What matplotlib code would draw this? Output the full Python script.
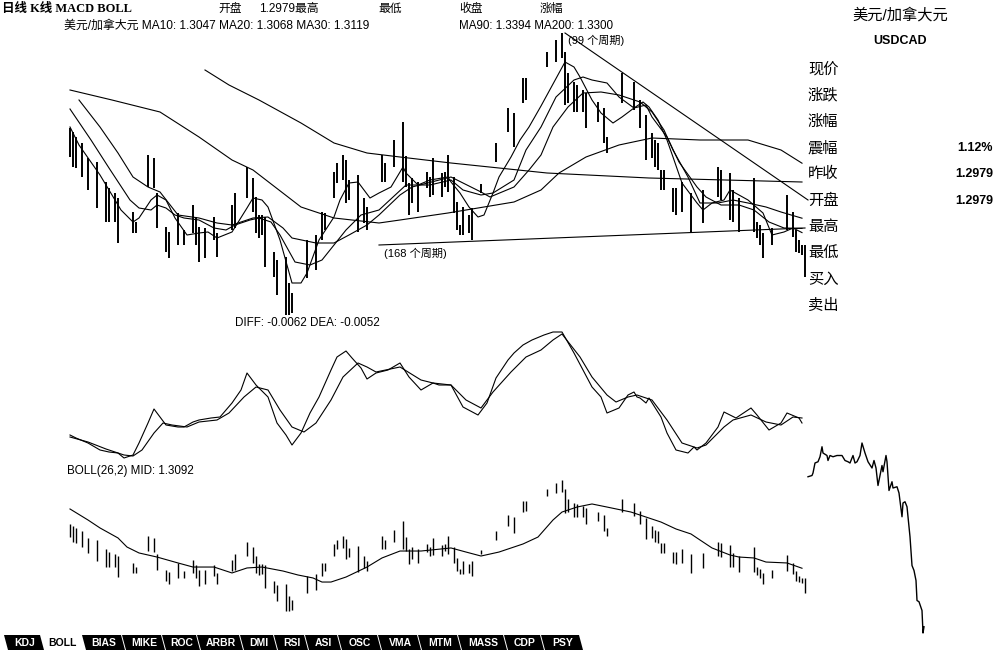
import matplotlib
matplotlib.use("Agg")
import matplotlib.pyplot as plt
from matplotlib.patches import Polygon

W, H = 995, 652

# daily bars: day index, high, low (USDCAD)
bar_day = [0, 1, 2, 4, 6, 9, 12, 13, 15, 16, 21, 22, 26, 28, 29, 32, 33, 36, 38, 41,
           42, 43, 45, 48, 49, 54, 55, 59, 61, 62, 63, 64, 65, 68, 69, 72, 73, 74, 79, 82,
           84, 85, 88, 89, 91, 92, 93, 96, 98, 99, 104, 105, 108, 111, 112, 113, 114, 116, 119, 120,
           121, 124, 125, 126, 128, 129, 130, 131, 133, 134, 137, 142, 146, 148, 151, 152, 159, 162, 164, 165,
           166, 168, 169, 171, 172, 176, 178, 179, 184, 188, 190, 192, 194, 195, 196, 197, 198, 201, 202, 204,
           207, 211, 216, 217, 220, 221, 223, 228, 229, 230, 231, 234, 239, 241, 242, 243, 244, 245]
bar_high = [1.3570, 1.3550, 1.3525, 1.3495, 1.3420, 1.3400, 1.3300, 1.3270, 1.3245, 1.3220,
            1.3150, 1.3100, 1.3435, 1.3420, 1.3245, 1.3075, 1.3050, 1.3145, 1.3060, 1.3185,
            1.3125, 1.3075, 1.3070, 1.3125, 1.3045, 1.3185, 1.3245, 1.3375, 1.3320, 1.3225,
            1.3135, 1.3135, 1.3125, 1.2950, 1.2910, 1.2925, 1.2795, 1.2745, 1.3010, 1.3035,
            1.3150, 1.3145, 1.3350, 1.3395, 1.3435, 1.3410, 1.3310, 1.3335, 1.3220, 1.3175,
            1.3435, 1.3395, 1.3510, 1.3600, 1.3430, 1.3295, 1.3320, 1.3300, 1.3350, 1.3325,
            1.3420, 1.3345, 1.3350, 1.3435, 1.3325, 1.3200, 1.3085, 1.3175, 1.3135, 1.3170,
            1.3290, 1.3495, 1.3670, 1.3645, 1.3820, 1.3820, 1.3950, 1.4010, 1.4045, 1.3950,
            1.3845, 1.3800, 1.3785, 1.3760, 1.3745, 1.3700, 1.3670, 1.3525, 1.3845, 1.3800,
            1.3710, 1.3635, 1.3545, 1.3510, 1.3495, 1.3360, 1.3360, 1.3270, 1.3270, 1.3300,
            1.3245, 1.3260, 1.3375, 1.3360, 1.3345, 1.3260, 1.3220, 1.3320, 1.3100, 1.3085,
            1.3045, 1.3070, 1.3235, 1.3150, 1.3060, 1.3010, 1.2985, 1.2985]
bar_low = [1.3425, 1.3375, 1.3370, 1.3325, 1.3260, 1.3170, 1.3100, 1.3100, 1.3100, 1.2995,
           1.3045, 1.3045, 1.3275, 1.3270, 1.3070, 1.2950, 1.2920, 1.2985, 1.2985, 1.3045,
           1.2985, 1.2900, 1.2920, 1.3010, 1.2925, 1.3060, 1.3070, 1.3220, 1.3150, 1.3045,
           1.3020, 1.3035, 1.2875, 1.2825, 1.2735, 1.2635, 1.2635, 1.2645, 1.2820, 1.2860,
           1.3010, 1.3060, 1.3220, 1.3295, 1.3310, 1.3195, 1.3210, 1.3050, 1.3095, 1.3060,
           1.3300, 1.3300, 1.3375, 1.3300, 1.3275, 1.3135, 1.3195, 1.3150, 1.3270, 1.3225,
           1.3235, 1.3225, 1.3275, 1.3250, 1.3145, 1.3060, 1.3035, 1.3035, 1.3045, 1.3010,
           1.3245, 1.3400, 1.3550, 1.3475, 1.3695, 1.3710, 1.3875, 1.3900, 1.3920, 1.3685,
           1.3695, 1.3650, 1.3650, 1.3650, 1.3570, 1.3600, 1.3495, 1.3445, 1.3695, 1.3660,
           1.3570, 1.3410, 1.3420, 1.3375, 1.3360, 1.3260, 1.3260, 1.3150, 1.3135, 1.3150,
           1.3045, 1.3095, 1.3225, 1.3210, 1.3110, 1.3100, 1.3050, 1.3050, 1.3020, 1.2985,
           1.2920, 1.2985, 1.3060, 1.3025, 1.2950, 1.2945, 1.2935, 1.2825]

# moving averages
ma10_day = [0, 3, 10, 17, 21, 23, 27, 29, 32, 35, 39, 43, 46, 49, 54, 59, 61, 64, 66, 70,
            74, 77, 79, 83, 88, 90, 93, 96, 98, 100, 103, 107, 111, 112, 116, 120, 126, 127, 130, 133,
            136, 138, 141, 143, 147, 150, 153, 157, 161, 165, 168, 170, 174, 177, 181, 184, 188, 191, 193, 196,
            199, 201, 204, 209, 211, 214, 218, 220, 226, 231, 234, 238, 241, 244]
ma10 = [1.3575, 1.3485, 1.3335, 1.3160, 1.3100, 1.3120, 1.3210, 1.3235, 1.3210, 1.3120,
        1.3035, 1.3045, 1.3050, 1.3020, 1.3050, 1.3170, 1.3220, 1.3210, 1.3175, 1.3010,
        1.2795, 1.2795, 1.2845, 1.3010, 1.3125, 1.3210, 1.3295, 1.3300, 1.3260, 1.3220,
        1.3245, 1.3275, 1.3375, 1.3345, 1.3285, 1.3310, 1.3325, 1.3300, 1.3245, 1.3175,
        1.3125, 1.3135, 1.3245, 1.3325, 1.3425, 1.3510, 1.3575, 1.3680, 1.3790, 1.3900,
        1.3875, 1.3825, 1.3710, 1.3645, 1.3595, 1.3625, 1.3670, 1.3700, 1.3675, 1.3610,
        1.3510, 1.3425, 1.3295, 1.3195, 1.3160, 1.3195, 1.3210, 1.3260, 1.3210, 1.3145,
        1.3035, 1.3050, 1.3070, 1.3047]
ma20_day = [0, 7, 13, 20, 23, 27, 29, 32, 35, 38, 43, 48, 52, 55, 60, 63, 67, 70, 75, 80,
            84, 88, 92, 97, 103, 112, 120, 127, 131, 137, 141, 148, 152, 157, 162, 168, 171, 174, 179, 183,
            188, 192, 194, 199, 203, 209, 212, 217, 223, 228, 233, 238, 244]
ma20 = [1.3665, 1.3510, 1.3370, 1.3210, 1.3170, 1.3160, 1.3185, 1.3170, 1.3135, 1.3120,
        1.3110, 1.3070, 1.3060, 1.3085, 1.3110, 1.3120, 1.3100, 1.3035, 1.2900, 1.2885,
        1.2910, 1.2985, 1.3060, 1.3135, 1.3160, 1.3285, 1.3285, 1.3310, 1.3260, 1.3235,
        1.3245, 1.3310, 1.3460, 1.3575, 1.3725, 1.3810, 1.3825, 1.3810, 1.3795, 1.3725,
        1.3670, 1.3685, 1.3625, 1.3525, 1.3400, 1.3275, 1.3225, 1.3185, 1.3185, 1.3160,
        1.3100, 1.3070, 1.3068]
ma30_day = [3, 10, 16, 21, 26, 30, 36, 43, 49, 54, 61, 66, 71, 74, 82, 88, 93, 99, 103, 110,
            114, 127, 137, 140, 148, 153, 157, 161, 166, 171, 177, 183, 190, 194, 198, 201, 206, 210, 216, 221,
            226, 232, 237, 244]
ma30 = [1.3710, 1.3575, 1.3445, 1.3325, 1.3275, 1.3250, 1.3135, 1.3120, 1.3095, 1.3085,
        1.3120, 1.3125, 1.3070, 1.3020, 1.2995, 1.2995, 1.3035, 1.3085, 1.3135, 1.3235,
        1.3275, 1.3325, 1.3250, 1.3225, 1.3275, 1.3360, 1.3435, 1.3575, 1.3675, 1.3745,
        1.3750, 1.3735, 1.3700, 1.3650, 1.3560, 1.3460, 1.3325, 1.3195, 1.3195, 1.3210,
        1.3195, 1.3175, 1.3150, 1.3119]
ma90_day = [0, 7, 14, 26, 30, 43, 54, 61, 77, 88, 103, 110, 126, 148, 157, 163, 172, 183, 194, 210,
            226, 237, 244]
ma90 = [1.3760, 1.3735, 1.3710, 1.3665, 1.3650, 1.3525, 1.3410, 1.3360, 1.3175, 1.3120,
        1.3095, 1.3110, 1.3145, 1.3200, 1.3260, 1.3345, 1.3425, 1.3485, 1.3520, 1.3510,
        1.3510, 1.3460, 1.3394]
ma200_day = [45, 53, 63, 77, 88, 99, 110, 127, 159, 193, 244]
ma200 = [1.3860, 1.3785, 1.3710, 1.3595, 1.3495, 1.3445, 1.3425, 1.3395, 1.3345, 1.3320, 1.3300]

# trend lines
line99_day, line99 = [165, 246], [1.4045, 1.3210]
line168_day, line168 = [103, 245], [1.2985, 1.3070]

# MACD
diff_day = [0, 2, 6, 10, 13, 16, 18, 21, 23, 26, 28, 30, 32, 36, 38, 41, 43, 47, 50, 54,
            57, 59, 62, 66, 69, 72, 74, 77, 80, 83, 87, 89, 92, 94, 97, 99, 102, 106, 110, 113,
            117, 121, 123, 127, 131, 136, 139, 142, 146, 148, 151, 154, 158, 161, 164, 168, 171, 174, 177, 179,
            183, 186, 188, 189, 190, 192, 193, 197, 199, 202, 206, 208, 209, 212, 216, 218, 222, 227, 229, 233,
            237, 239, 243, 244]
diff = [-0.0086, -0.0092, -0.0102, -0.0116, -0.0120, -0.0122, -0.0132, -0.0126, -0.0102, -0.0062,
        -0.0034, -0.0050, -0.0066, -0.0070, -0.0070, -0.0060, -0.0056, -0.0052, -0.0050, -0.0022,
        0.0004, 0.0038, 0.0014, -0.0010, -0.0062, -0.0086, -0.0106, -0.0082, -0.0042, -0.0010,
        0.0044, 0.0070, 0.0082, 0.0068, 0.0048, 0.0026, 0.0038, 0.0044, 0.0058, 0.0030,
        0.0004, 0.0018, 0.0014, 0.0014, -0.0030, -0.0046, -0.0022, 0.0028, 0.0064, 0.0078,
        0.0094, 0.0104, 0.0114, 0.0120, 0.0120, 0.0078, 0.0044, 0.0010, -0.0010, -0.0042,
        -0.0032, -0.0006, 0.0000, -0.0010, -0.0012, -0.0022, -0.0012, -0.0050, -0.0082, -0.0116,
        -0.0122, -0.0110, -0.0116, -0.0102, -0.0070, -0.0040, -0.0052, -0.0032, -0.0046, -0.0076,
        -0.0062, -0.0042, -0.0052, -0.0062]
dea_day = [0, 6, 12, 18, 21, 24, 28, 31, 34, 39, 43, 49, 53, 58, 62, 66, 70, 74, 78, 82,
           87, 91, 96, 99, 102, 110, 117, 121, 127, 132, 137, 141, 147, 152, 157, 161, 164, 170, 174, 179,
           182, 186, 189, 191, 194, 199, 204, 209, 212, 218, 221, 227, 232, 237, 241, 244]
dea = [-0.0090, -0.0100, -0.0114, -0.0126, -0.0128, -0.0116, -0.0082, -0.0062, -0.0066, -0.0070,
       -0.0060, -0.0056, -0.0042, -0.0010, 0.0010, 0.0004, -0.0036, -0.0070, -0.0080, -0.0062,
       -0.0016, 0.0030, 0.0058, 0.0050, 0.0040, 0.0050, 0.0024, 0.0018, 0.0014, -0.0016,
       -0.0032, 0.0000, 0.0040, 0.0070, 0.0084, 0.0104, 0.0116, 0.0070, 0.0030, -0.0006,
       -0.0020, -0.0010, -0.0006, -0.0010, -0.0016, -0.0056, -0.0102, -0.0112, -0.0106, -0.0070,
       -0.0056, -0.0046, -0.0060, -0.0066, -0.0050, -0.0052]

# BOLL(26,2) middle band
mid_day = [0, 6, 10, 16, 19, 23, 29, 36, 41, 48, 54, 59, 64, 71, 76, 81, 84, 87, 92, 99,
           104, 110, 117, 127, 132, 137, 143, 151, 156, 161, 164, 169, 174, 179, 187, 192, 197, 202, 207, 210,
           214, 220, 223, 228, 232, 239, 244]
mid = [1.3732, 1.3613, 1.3527, 1.3419, 1.3321, 1.3257, 1.3213, 1.3149, 1.3105, 1.3105,
       1.3041, 1.3095, 1.3105, 1.3062, 1.3019, 1.2987, 1.2943, 1.2943, 1.2997, 1.3105,
       1.3203, 1.3278, 1.3278, 1.3311, 1.3267, 1.3224, 1.3267, 1.3354, 1.3429, 1.3613,
       1.3699, 1.3753, 1.3786, 1.3753, 1.3699, 1.3645, 1.3591, 1.3516, 1.3462, 1.3397,
       1.3311, 1.3235, 1.3213, 1.3203, 1.3159, 1.3149, 1.3092]

# intraday trace
tick_idx = [0, 4, 5, 7, 10, 12, 14, 15, 19, 20, 22, 25, 29, 34, 37, 40, 42, 45, 47, 49,
            52, 54, 57, 60, 64, 66, 68, 70, 74, 75, 78, 79, 81, 84, 85, 89, 91, 94, 95, 97,
            99, 102, 104, 106, 108, 109, 111, 114, 115, 116]
tick_price = [1.2973, 1.2974, 1.2976, 1.2984, 1.2985, 1.2989, 1.2997, 1.2992, 1.2990, 1.2986,
              1.2990, 1.2989, 1.2990, 1.2990, 1.2986, 1.2985, 1.2984, 1.2990, 1.2984, 1.2985,
              1.2990, 1.3000, 1.2992, 1.2985, 1.2980, 1.2986, 1.2980, 1.2966, 1.2982, 1.2977,
              1.2990, 1.2985, 1.2962, 1.2969, 1.2964, 1.2965, 1.2960, 1.2941, 1.2952, 1.2953,
              1.2949, 1.2925, 1.2902, 1.2898, 1.2890, 1.2874, 1.2873, 1.2866, 1.2848, 1.2853]

quote_labels = ["现价", "涨跌", "涨幅", "震幅", "昨收", "开盘", "最高", "最低", "买入", "卖出"]
quote_values = ["", "", "", "1.12%", "1.2979", "1.2979", "", "", "", ""]
tab_names = ["KDJ", "BOLL", "BIAS", "MIKE", "ROC", "ARBR", "DMI", "RSI", "ASI", "OSC",
             "VMA", "MTM", "MASS", "CDP", "PSY"]
tab_edges = [4, 41, 82, 122, 162, 197, 240, 274, 305, 338, 378, 418, 458, 504, 541, 580]

CJK = ["Liberation Sans", "Noto Sans CJK SC", "DejaVu Sans"]
LW = 0.8

fig = plt.figure(figsize=(W / 100, H / 100), dpi=100)
fig.patch.set_facecolor("white")


def panel(left, top, right, bottom):
    ax = fig.add_axes([left / W, 1 - bottom / H, (right - left) / W, (bottom - top) / H])
    ax.set_axis_off()
    ax.patch.set_alpha(0)
    return ax


def days(left, right):
    return ((left - 70) / 3, (right - 70) / 3)


# main K-line panel
ax = panel(0, 20, 810, 320)
ax.set_xlim(*days(0, 810))
ax.set_ylim(1.421 - 320 / 2000, 1.421 - 20 / 2000)
ax.vlines(bar_day, bar_low, bar_high, color="black", lw=1.4)
for d, v in [(ma10_day, ma10), (ma20_day, ma20), (ma30_day, ma30), (ma90_day, ma90), (ma200_day, ma200),
             (line99_day, line99), (line168_day, line168)]:
    ax.plot(d, v, color="black", lw=LW)

# MACD panel
ax2 = panel(0, 325, 810, 470)
ax2.set_xlim(*days(0, 810))
ax2.set_ylim(0.0784 - 470 / 5000, 0.0784 - 325 / 5000)
ax2.plot(diff_day, diff, color="black", lw=LW)
ax2.plot(dea_day, dea, color="black", lw=LW)

# BOLL panel
ax3 = panel(0, 478, 810, 625)
ax3.set_xlim(*days(0, 810))
ax3.set_ylim(1.4045 - 145 * 0.00108, 1.4045 + 2 * 0.00108)
ax3.vlines(bar_day, bar_low, bar_high, color="black", lw=1.0)
ax3.plot(mid_day, mid, color="black", lw=LW)

# small intraday chart
ax4 = panel(800, 435, 940, 640)
ax4.set_xlim(-8, 132)
ax4.set_ylim(1.3 - 197 * 0.00008, 1.3 + 8 * 0.00008)
ax4.plot(tick_idx, tick_price, color="black", lw=1.0)

# text overlay in pixel units
ov = fig.add_axes([0, 0, 1, 1])
ov.set_xlim(0, W)
ov.set_ylim(H, 0)
ov.set_axis_off()
ov.patch.set_alpha(0)

ov.text(2, 9, "日线 K线 MACD BOLL", family=["Liberation Serif", "Noto Sans CJK SC"],
        fontsize=9, fontweight="bold", va="center")
for x, s in [(218, "开盘"), (259, "1.2979最高"), (378, "最低"), (459, "收盘"), (540, "涨幅")]:
    ov.text(x, 9, s, family=CJK, fontsize=8.5, va="center")
ov.text(64, 26, "美元/加拿大元 MA10: 1.3047 MA20: 1.3068 MA30: 1.3119", family=CJK, fontsize=8.6, va="center")
ov.text(459, 26, "MA90: 1.3394 MA200: 1.3300", family=CJK, fontsize=8.4, va="center")
ov.text(568, 40, "(99 个周期)", family=CJK, fontsize=8, va="center")
ov.text(384, 253, "(168 个周期)", family=CJK, fontsize=8, va="center")
ov.text(235, 323, "DIFF: -0.0062 DEA: -0.0052", family=CJK, fontsize=8.4, va="center")
ov.text(67, 471, "BOLL(26,2) MID: 1.3092", family=CJK, fontsize=8.4, va="center")

ov.text(900, 15, "美元/加拿大元", family=CJK, fontsize=11, ha="center", va="center")
ov.text(900, 41, "USDCAD", family=["Liberation Sans"], fontsize=9, fontweight="bold",
        ha="center", va="center")
for i, (lab, val) in enumerate(zip(quote_labels, quote_values)):
    y = 69 + i * 26.3
    ov.text(808, y, lab, family=CJK, fontsize=11, va="center")
    if val:
        ov.text(993, y, val, family=["Liberation Sans"], fontsize=9, fontweight="bold",
                ha="right", va="center")

# indicator tabs along the bottom
for i, name in enumerate(tab_names):
    x0, x1 = tab_edges[i], tab_edges[i + 1]
    if name == "BOLL":
        ov.text((x0 + x1) / 2 + 1, 643, name, family=["Liberation Sans"], fontsize=7.5,
                fontweight="bold", ha="center", va="center", color="black")
        continue
    poly = Polygon([(x0, 635), (x1 - 1, 635), (x1 + 3, 650), (x0 + 4, 650)],
                   closed=True, facecolor="black", edgecolor="none")
    ov.add_patch(poly)
    ov.text((x0 + x1) / 2 + 2, 643, name, family=["Liberation Sans"], fontsize=7.5,
            fontweight="bold", ha="center", va="center", color="white")

fig.savefig("out.png", dpi=100, facecolor="white")
